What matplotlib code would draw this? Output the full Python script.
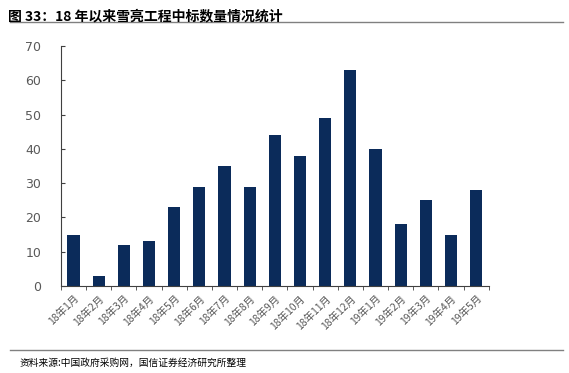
import matplotlib
matplotlib.use('Agg')
import matplotlib.pyplot as plt
import numpy as np

plt.rcParams['font.family'] = ['Noto Sans CJK SC', 'DejaVu Sans']

months = ['18年1月', '18年2月', '18年3月', '18年4月', '18年5月', '18年6月',
          '18年7月', '18年8月', '18年9月', '18年10月', '18年11月', '18年12月',
          '19年1月', '19年2月', '19年3月', '19年4月', '19年5月']
counts = [15, 3, 12, 13, 23, 29, 35, 29, 44, 38, 49, 63, 40, 18, 25, 15, 28]

fig = plt.figure(figsize=(5.69, 3.73), dpi=100)
ax = fig.add_axes([0.107, 0.233, 0.752, 0.644])

x = np.arange(len(months))
ax.bar(x, counts, width=0.48, color='#0b2b5a')

ax.set_xlim(-0.5, len(months) - 0.5)
ax.set_ylim(0, 70)
ax.set_yticks(range(0, 71, 10))
ax.set_xticks(x)
ax.set_xticklabels(months, rotation=45, ha='right', rotation_mode='anchor',
                   fontsize=7.5, color='#595959')
ax.set_xticks(np.arange(-0.5, len(months)), minor=True)
ax.tick_params(axis='x', which='major', length=0, pad=5)
ax.tick_params(axis='x', which='minor', length=3, direction='out', color='#404040')
ax.tick_params(axis='y', length=3, direction='in', labelsize=9,
               labelcolor='#595959', color='#404040', pad=14)
for lbl in ax.get_yticklabels():
    lbl.set_fontfamily('DejaVu Sans')

ax.spines['top'].set_visible(False)
ax.spines['right'].set_visible(False)
ax.spines['left'].set_color('#404040')
ax.spines['bottom'].set_color('#404040')

# 标题和来源
fig.text(0.014, 0.975, '图 33：18 年以来雪亮工程中标数量情况统计', fontsize=10,
         fontweight='bold', va='top', ha='left')
fig.add_artist(plt.Line2D([0.018, 0.99], [0.94, 0.94], color='#808080', lw=1))
fig.add_artist(plt.Line2D([0.018, 0.99], [0.062, 0.062], color='#808080', lw=1))
fig.text(0.035, 0.04, '资料来源:中国政府采购网，国信证券经济研究所整理', fontsize=7,
         va='top', ha='left')

fig.savefig('out.png', dpi=100)
